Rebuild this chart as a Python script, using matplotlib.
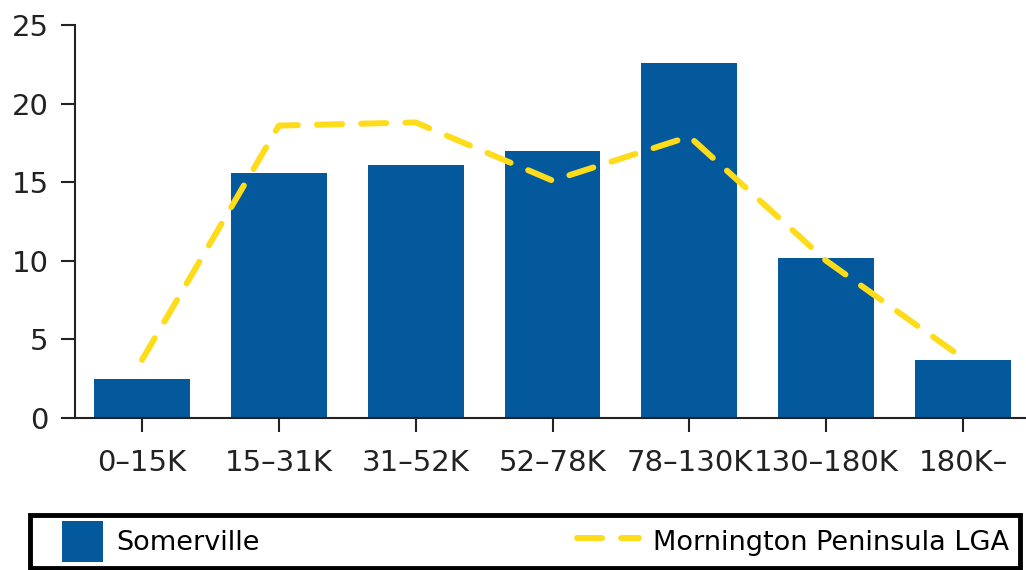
import matplotlib
matplotlib.use("Agg")
import matplotlib.pyplot as plt
from matplotlib.legend_handler import HandlerPatch
from matplotlib.patches import Rectangle
import numpy as np

categories = ["0-15K", "15-31K", "31-52K", "52-78K", "78-130K", "130-180K", "180K-"]
somerville = [2.5, 15.6, 16.1, 17.0, 22.6, 10.2, 3.7]
mornington = [3.7, 18.6, 18.8, 15.1, 17.9, 10.0, 3.8]

bar_color = "#03599c"
line_color = "#fedc1a"

plt.rcParams['font.family'] = ['DejaVu Sans']

fig = plt.figure(figsize=(10.26, 5.70), dpi=100)
ax = fig.add_axes([0.0731, 0.2667, 0.9269, 0.6895])

x = np.arange(len(categories))
ax.bar(x, somerville, width=0.7, color=bar_color, zorder=2)
line, = ax.plot(x, mornington, color=line_color, lw=4.3, dashes=(4.2, 3.2),
                dash_capstyle="round", label="Mornington Peninsula LGA", zorder=3)

ax.set_xlim(-0.49, 6.46)
ax.set_ylim(0, 25)
ax.set_yticks([0, 5, 10, 15, 20, 25])
ax.set_xticks(x)
ax.set_xticklabels([c.replace("-", "\u2013") for c in categories])
ax.tick_params(axis="both", labelsize=21, colors="#222222", length=10, width=1.5)
ax.tick_params(axis="x", pad=12)
ax.tick_params(axis="y", pad=9)
for s in ["top", "right"]:
    ax.spines[s].set_visible(False)
for s in ["left", "bottom"]:
    ax.spines[s].set_linewidth(1.5)
    ax.spines[s].set_color("#222222")


def square_patch(legend, orig_handle, xdescent, ydescent, width, height, fontsize):
    side = height * 1.3
    return Rectangle((-xdescent + width - side, -ydescent + (height - side) / 2), side, side)


bar_handle = Rectangle((0, 0), 1, 1, facecolor=bar_color, label="Somerville")
leg = fig.legend(handles=[bar_handle, line], loc="lower left",
                 bbox_to_anchor=(0.029, 0.004, 0.965, 0.11),
                 mode="expand", ncol=2, fontsize=19.5, frameon=True, fancybox=False,
                 framealpha=1, handlelength=2.3, handleheight=1.4, handletextpad=0.5,
                 borderaxespad=0, borderpad=0.4,
                 handler_map={bar_handle: HandlerPatch(patch_func=square_patch)})
leg.get_frame().set_edgecolor("black")
leg.get_frame().set_linewidth(3.5)

fig.savefig("out.png", dpi=100)
